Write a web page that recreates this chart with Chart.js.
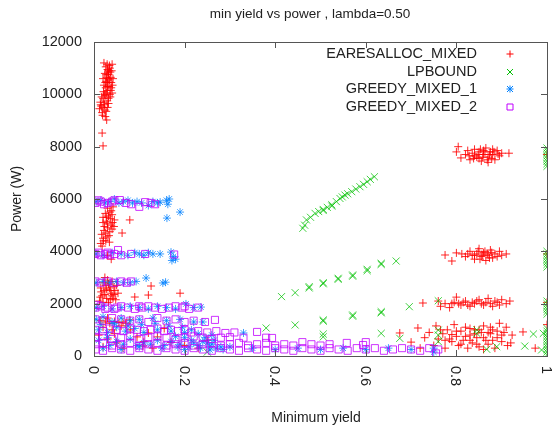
<!DOCTYPE html>
<html>
<head>
<meta charset="utf-8">
<script src="https://cdn.jsdelivr.net/npm/chart.js@4/dist/chart.umd.min.js"></script>
<style>
  html, body { margin: 0; padding: 0; background: #fff; }
  canvas { display: block; }
</style>
</head>
<body>
<canvas id="yieldChart" width="553" height="426"></canvas>
<script>
// points, [min yield, power]
const seriesNames = ["EARESALLOC_MIXED", "LPBOUND", "GREEDY_MIXED_1", "GREEDY_MIXED_2"];
const xTicks = [0, 0.2, 0.4, 0.6, 0.8, 1];
const yTicks = [0, 2000, 4000, 6000, 8000, 10000, 12000];

const earesallocPts = [
    [0.012,9450],[0.015,9600],[0.018,9300],[0.02,9500],[0.022,9700],[0.024,9400],[0.02,9850],[0.025,9950],[0.028,10050],[0.03,10150],
    [0.026,10250],[0.022,10350],[0.03,10450],[0.034,10550],[0.028,10650],[0.032,10750],[0.036,10850],[0.03,10950],[0.026,11050],[0.034,11100],
    [0.04,11150],[0.022,11200],[0.038,10250],[0.04,10050],[0.036,9900],[0.032,9650],[0.025,9150],[0.028,9020],[0.016,9550],[0.02,10600],
    [0.024,10800],[0.038,10450],[0.033,10300],[0.029,9750],[0.035,10000],[0.027,10500],[0.031,10850],[0.019,9200],[0.018,8520],[0.02,8030],
    [0.014,9700],[0.017,9900],[0.021,10100],[0.023,9600],[0.027,9350],[0.029,10300],[0.031,10600],[0.033,10900],[0.037,10650],[0.041,10350],
    [0.039,10900],[0.035,11000],[0.027,10750],[0.025,10450],[0.023,10000],[0.03,9500],[0.032,9850],[0.037,10150],[0.042,10600],[0.029,11150],
    [0.015,4300],[0.02,4500],[0.025,4700],[0.03,4900],[0.02,5100],[0.028,5300],[0.035,5500],[0.03,5650],[0.04,5400],[0.045,5200],
    [0.038,5000],[0.022,4800],[0.033,4600],[0.026,4400],[0.018,4200],[0.04,4850],[0.03,5050],[0.036,5250],[0.025,5450],[0.042,5700],
    [0.079,5200],[0.062,4700],[0.038,3700],[0.03,3850],[0.02,5300],[0.034,4350],
    [0.017,4650],[0.023,4950],[0.027,5150],[0.032,5350],[0.038,5550],[0.044,4950],[0.021,4400],[0.029,4550],[0.035,4750],[0.041,5100],
    [0.012,2100],[0.018,2300],[0.022,2500],[0.026,2700],[0.03,2900],[0.02,2800],[0.034,2600],[0.038,2400],[0.042,2200],[0.046,2500],
    [0.05,2700],[0.015,2600],[0.028,2200],[0.032,2050],[0.04,2850],[0.024,3000],[0.036,2150],[0.044,2350],[0.016,2450],
    [0.014,2250],[0.02,2050],[0.024,2350],[0.028,2550],[0.032,2750],[0.036,2500],[0.04,2300],[0.044,2650],[0.048,2150],[0.053,2400],
    [0.126,2675],[0.09,2254],[0.12,2330],[0.19,2400],
    [0.015,1350],[0.025,1300],[0.035,1250],[0.045,1320],[0.055,1280],[0.064,1300],[0.079,1380],[0.02,1100],[0.04,1000],[0.01,800],
    [0.03,650],[0.05,500],[0.064,300],[0.108,380],[0.095,730],[0.14,730],[0.17,520],[0.2,400],[0.23,300],[0.08,1000],
    [0.12,880],[0.155,1050],[0.02,350],[0.045,850],[0.11,550],[0.03,1450],[0.06,1150],[0.07,1250],[0.25,600],[0.13,300],
    [0.804,8000],[0.80,7800],[0.81,7570],[0.82,7700],[0.825,7850],[0.83,7500],[0.835,7750],[0.84,7900],[0.845,7600],[0.85,7800],
    [0.855,7450],[0.86,7700],[0.865,7950],[0.87,7600],[0.875,7800],[0.88,7700],[0.885,7500],[0.89,7850],[0.895,7650],[0.90,7750],
    [0.916,7750],[0.86,7850],[0.87,7400],[0.84,7650],[0.88,7900],[0.85,7550],[0.892,7720],
    [0.828,7650],[0.838,7550],[0.848,7700],[0.858,7600],[0.863,7800],[0.873,7700],[0.878,7550],[0.883,7800],[0.853,7900],[0.868,7500],
    [0.775,3860],[0.79,3630],[0.80,3940],[0.812,3900],[0.82,3800],[0.83,4000],[0.84,3700],[0.845,3900],[0.85,4100],[0.855,3800],
    [0.86,3950],[0.865,3650],[0.87,3850],[0.875,4050],[0.88,3750],[0.885,3900],[0.89,3800],[0.895,4000],[0.90,3850],[0.91,3900],
    [0.868,3900],[0.84,3850],[0.825,3900],[0.835,3850],[0.858,3850],[0.863,4000],[0.873,3750],[0.878,3950],[0.852,3700],[0.848,4000],
    [0.726,2025],[0.76,2100],[0.765,1900],[0.775,2000],[0.785,1850],[0.795,2050],[0.80,2250],[0.81,1950],[0.82,2100],[0.83,1900],
    [0.84,2000],[0.85,2150],[0.86,1950],[0.865,2050],[0.87,2200],[0.88,1900],[0.89,2050],[0.90,2150],[0.91,2000],[0.918,2100],
    [0.79,2000],[0.835,2050],[0.805,2000],[0.815,2050],[0.825,1950],[0.845,2100],[0.855,2000],[0.875,2000],[0.885,2100],[0.895,1950],
    [0.675,880],[0.70,530],[0.715,1070],[0.72,300],[0.73,700],[0.74,900],[0.75,400],[0.755,1150],[0.76,650],[0.77,850],
    [0.775,300],[0.78,1000],[0.79,550],[0.795,1200],[0.80,750],[0.805,400],[0.81,950],[0.815,600],[0.82,1100],[0.825,300],
    [0.83,800],[0.835,500],[0.84,1000],[0.845,700],[0.85,350],[0.855,900],[0.86,1150],[0.865,600],[0.87,450],[0.875,850],
    [0.88,1000],[0.885,300],[0.89,700],[0.895,1250],[0.90,550],[0.905,900],[0.91,1100],[0.913,400],[0.92,500],[0.923,800],
    [0.947,920],[0.974,300],[0.79,820],[0.83,1050],[0.86,250],
    [0.785,650],[0.8,950],[0.81,450],[0.82,750],[0.83,600],[0.84,850],[0.85,1000],[0.86,700],[0.87,900],[0.88,600],
    [0.89,950],[0.9,800],[0.765,1000],[0.775,600],[0.845,450],[0.875,1100],
    [1,2050],[1,1200],[1,3900],[1,7700]
];

const lpboundPts = [
    [0.461,4880],[0.465,5000],[0.469,5200],[0.478,5300],[0.488,5450],[0.496,5520],[0.506,5600],[0.506,5560],[0.515,5680],[0.525,5730],
    [0.525,5780],[0.535,5900],[0.543,6020],[0.548,6080],[0.554,6150],[0.56,6200],[0.569,6280],[0.578,6380],[0.587,6470],[0.595,6560],
    [0.603,6660],[0.61,6750],[0.619,6850],
    [0.414,2270],[0.444,2420],[0.475,2650],[0.475,2600],[0.506,2800],[0.506,2760],[0.539,2970],[0.539,2930],[0.571,3095],[0.571,3050],
    [0.603,3313],[0.603,3260],[0.634,3540],[0.634,3500],[0.667,3630],
    [0.38,1070],[0.444,1185],[0.506,1376],[0.506,1330],[0.571,1567],[0.571,1520],[0.634,1695],[0.634,1650],[0.696,1885],[0.76,2110],
    [0.25,150],[0.506,840],[0.506,730],[0.634,865],[0.675,675],[0.76,550],[0.76,990],[0.76,800],[0.845,865],[0.845,1000],
    [0.867,255],[0.889,355],[0.951,380],[0.97,840],[0.988,230],[0.992,865],
    [1,7250],[1,7350],[1,7450],[1,7550],[1,7650],[1,7750],[1,7850],[1,7950],
    [1,3400],[1,3500],[1,3600],[1,3700],[1,3800],[1,3900],[1,4000],
    [1,1600],[1,1700],[1,1800],[1,1900],[1,2000],[1,2100],
    [1,50],[1,150],[1,250],[1,350],[1,450],[1,550],[1,650],[1,750],[1,850],[1,950],[1,1050]
];

const greedy1Pts = [
    [0.005,5900],[0.015,5950],[0.025,5850],[0.035,5900],[0.045,6000],[0.055,5850],[0.065,5900],[0.075,5950],[0.085,5850],[0.095,5900],
    [0.105,5850],[0.12,5750],[0.13,5900],[0.14,5850],[0.146,5880],[0.16,5950],[0.163,5800],[0.166,6000],[0.161,5270],[0.19,5500],
    [0.005,3900],[0.02,3850],[0.04,3950],[0.06,3900],[0.075,3850],[0.09,3950],[0.1,3900],[0.11,3850],[0.12,3950],[0.13,3900],
    [0.146,3900],[0.17,3970],[0.175,3800],[0.18,3700],[0.172,3650],
    [0.005,2800],[0.02,2850],[0.035,2800],[0.05,2850],[0.065,2800],[0.08,2800],[0.093,2850],[0.115,2980],[0.152,2790],[0.158,2820],
    [0.005,1850],[0.02,1900],[0.04,1800],[0.06,1850],[0.08,1900],[0.1,1850],[0.12,1800],[0.14,1900],[0.16,1850],[0.18,1800],
    [0.203,1990],[0.22,1850],[0.236,1870],
    [0.005,1400],[0.02,1500],[0.04,1300],[0.06,1450],[0.08,1350],[0.1,1400],[0.13,1450],[0.16,1350],[0.19,1400],[0.22,1300],[0.24,1300],
    [0.01,1000],[0.03,900],[0.05,1100],[0.07,950],[0.09,1050],[0.11,900],[0.14,1000],[0.17,950],[0.2,900],[0.23,850],[0.26,800],
    [0.01,600],[0.03,700],[0.05,550],[0.08,650],[0.11,500],[0.14,600],[0.17,550],[0.19,450],[0.21,350],[0.23,400],[0.25,500],[0.27,300],
    [0.02,300],[0.06,250],[0.1,350],[0.15,300],[0.2,250],[0.256,230],[0.33,880],[0.3,350],[0.35,300],[0.4,250],
    [0.45,300],[0.5,250],[0.55,300],[0.6,250],[0.65,300],[0.7,250],[0.75,150],[0.75,300],
    [0.22,500],[0.24,550],[0.26,450],[0.28,350],[0.2,700],[0.18,750],
    [0.015,1200],[0.045,1250],[0.075,1150],[0.105,1200],[0.135,1250],[0.165,1150],[0.195,1100],[0.215,1000],[0.245,700],[0.265,600],
    [0.035,400],[0.065,450],[0.095,400],[0.125,450],[0.155,400],[0.185,350],[0.215,600],[0.235,300],[0.255,350],[0.285,250]
];

const greedy2Pts = [
    [0.003,5850],[0.015,5900],[0.03,5850],[0.045,5950],[0.057,5960],[0.07,5850],[0.082,5800],[0.1,5700],[0.113,5880],[0.125,5850],[0.135,5800],
    [0.003,3900],[0.015,3850],[0.025,3900],[0.035,3850],[0.045,3900],[0.053,4050],[0.06,3850],[0.082,3900],[0.113,3900],[0.177,3880],
    [0.003,2850],[0.015,2800],[0.03,2850],[0.045,2800],[0.06,2850],[0.072,2800],[0.082,2850],
    [0.003,1850],[0.015,1900],[0.03,1850],[0.045,1800],[0.06,1900],[0.075,1850],[0.09,1800],[0.105,1850],[0.12,1900],[0.135,1850],
    [0.15,1800],[0.165,1850],[0.18,1900],[0.195,1850],[0.21,1800],[0.23,1850],
    [0.003,1400],[0.02,1350],[0.04,1450],[0.06,1400],[0.08,1350],[0.1,1400],[0.12,1300],[0.14,1450],[0.16,1350],[0.18,1400],
    [0.2,1300],[0.22,1350],[0.245,1300],[0.267,1380],
    [0.003,1000],[0.02,950],[0.035,1050],[0.05,1000],[0.065,950],[0.08,1050],[0.095,1000],[0.11,950],[0.125,1000],[0.14,1050],
    [0.155,950],[0.17,1000],[0.185,950],[0.2,1000],[0.215,900],[0.23,950],[0.25,900],[0.27,950],[0.29,880],[0.31,900],[0.36,920],
    [0.003,700],[0.02,750],[0.04,650],[0.06,700],[0.08,750],[0.1,650],[0.12,700],[0.14,750],[0.16,700],[0.18,650],
    [0.2,700],[0.22,750],[0.24,700],[0.26,650],[0.28,700],[0.3,720],[0.33,700],[0.38,700],[0.393,690],
    [0.003,450],[0.02,500],[0.04,400],[0.06,450],[0.08,500],[0.1,400],[0.12,450],[0.14,500],[0.16,400],[0.18,450],
    [0.2,500],[0.22,400],[0.24,450],[0.26,500],[0.28,400],[0.3,450],[0.32,500],[0.34,400],[0.36,450],[0.38,500],
    [0.4,400],[0.42,450],[0.44,400],[0.46,530],[0.48,450],[0.5,400],[0.52,450],[0.558,500],[0.594,420],[0.6,530],
    [0.003,250],[0.02,200],[0.04,300],[0.06,250],[0.08,200],[0.1,300],[0.12,250],[0.14,200],[0.16,300],[0.18,250],
    [0.2,200],[0.22,300],[0.24,250],[0.26,200],[0.28,300],[0.3,250],[0.32,200],[0.34,300],[0.36,250],[0.38,200],
    [0.4,300],[0.42,250],[0.44,200],[0.46,300],[0.48,250],[0.5,200],[0.52,300],[0.54,250],[0.56,200],[0.58,300],
    [0.6,250],[0.62,300],[0.64,200],[0.66,250],[0.68,300],[0.7,250],[0.72,200],[0.74,300],[0.76,250],[0.755,100],
    [0.01,5950],[0.022,5800],[0.04,5900],[0.01,3950],[0.03,3950],[0.008,1950],[0.025,1800],[0.05,1850],[0.1,1900],[0.2,1900]
];

const FONT = '"Liberation Sans", Arial, sans-serif';
const TEXT = '#222';
const colors = ['rgba(255,0,0,0.85)', 'rgba(0,192,0,0.75)', 'rgba(0,128,255,0.75)', 'rgba(192,0,255,0.8)'];
const styles = ['cross', 'crossRot', 'star', 'rect'];
const radii = [4, 5, 4, 5];

const toXY = (pts) => pts.map(p => ({ x: p[0], y: p[1] }));
const allPts = [earesallocPts, lpboundPts, greedy1Pts, greedy2Pts];

// gnuplot style marker for the key
function drawMarker(ctx, kind, x, y, color) {
    ctx.save();
    ctx.strokeStyle = color;
    ctx.lineWidth = 1;
    ctx.beginPath();
    if (kind === 0 || kind === 2) {
        ctx.moveTo(x - 3.5, y); ctx.lineTo(x + 3.5, y);
        ctx.moveTo(x, y - 3.5); ctx.lineTo(x, y + 3.5);
    }
    if (kind === 1 || kind === 2) {
        ctx.moveTo(x - 3, y - 3); ctx.lineTo(x + 3, y + 3);
        ctx.moveTo(x - 3, y + 3); ctx.lineTo(x + 3, y - 3);
    }
    if (kind === 3) {
        ctx.rect(x - 3, y - 3, 6, 6);
    }
    ctx.stroke();
    ctx.restore();
}

const gnuplotFrame = {
    id: 'gnuplotFrame',
    beforeDraw(chart) {
        const ctx = chart.ctx;
        ctx.save();
        ctx.fillStyle = '#fff';
        ctx.fillRect(0, 0, chart.width, chart.height);
        ctx.restore();
    },
    afterDraw(chart) {
        const ctx = chart.ctx;
        const a = chart.chartArea;
        const xs = chart.scales.x, ys = chart.scales.y;
        ctx.save();
        ctx.strokeStyle = '#555';
        ctx.lineWidth = 1;
        ctx.strokeRect(a.left + 0.5, a.top + 0.5, a.right - a.left, a.bottom - a.top);
        ctx.beginPath();
        yTicks.forEach(v => {
            const py = Math.round(ys.getPixelForValue(v)) + 0.5;
            ctx.moveTo(a.left, py); ctx.lineTo(a.left + 6, py);
            ctx.moveTo(a.right, py); ctx.lineTo(a.right - 6, py);
        });
        xTicks.forEach(v => {
            const px = Math.round(xs.getPixelForValue(v)) + 0.5;
            ctx.moveTo(px, a.bottom); ctx.lineTo(px, a.bottom - 6);
            ctx.moveTo(px, a.top); ctx.lineTo(px, a.top + 6);
        });
        ctx.stroke();

        // x tick labels, turned clockwise like gnuplot "rotate by -90"
        ctx.fillStyle = TEXT;
        ctx.font = '14.5px ' + FONT;
        ctx.textAlign = 'left';
        ctx.textBaseline = 'middle';
        xTicks.forEach(v => {
            const px = xs.getPixelForValue(v);
            ctx.save();
            ctx.translate(px - 1, a.bottom + 10);
            ctx.rotate(Math.PI / 2);
            ctx.fillText(String(v), 0, 0);
            ctx.restore();
        });

        // titles
        ctx.textAlign = 'center';
        ctx.font = '13.5px ' + FONT;
        ctx.fillText('min yield vs power , lambda=0.50', 310, 14);
        ctx.font = '14px ' + FONT;
        ctx.fillText('Minimum yield', 316, 418);
        ctx.save();
        ctx.translate(17, 199);
        ctx.rotate(-Math.PI / 2);
        ctx.fillText('Power (W)', 0, 0);
        ctx.restore();

        // key
        ctx.font = '14.5px ' + FONT;
        ctx.textAlign = 'right';
        const rows = [54, 72, 89, 107];
        seriesNames.forEach((name, i) => {
            ctx.fillStyle = TEXT;
            ctx.fillText(name, 477, rows[i]);
            drawMarker(ctx, i, 510, rows[i], colors[i].replace(/[\d.]+\)$/, '1)'));
        });
        ctx.restore();
    }
};

const datasets = seriesNames.map((name, i) => ({
    label: name,
    data: toXY(allPts[i]),
    pointStyle: styles[i],
    pointRadius: radii[i],
    pointHoverRadius: radii[i],
    pointBorderWidth: 1,
    borderColor: colors[i],
    backgroundColor: 'rgba(0,0,0,0)',
    order: 4 - i
}));

new Chart(document.getElementById('yieldChart').getContext('2d'), {
    type: 'scatter',
    data: { datasets: datasets },
    options: {
        responsive: false,
        animation: false,
        layout: { padding: { left: 0, top: 42, right: 6, bottom: 0 } },
        plugins: {
            legend: { display: false },
            title: { display: false },
            tooltip: { enabled: false }
        },
        scales: {
            x: {
                type: 'linear',
                min: 0,
                max: 1,
                ticks: { display: false },
                grid: { display: false, drawTicks: false },
                border: { display: false },
                afterFit: (s) => { s.height = 70; }
            },
            y: {
                type: 'linear',
                min: 0,
                max: 12000,
                ticks: {
                    stepSize: 2000,
                    padding: 12,
                    color: TEXT,
                    font: { family: FONT, size: 14.5 },
                    callback: (v) => String(v)
                },
                grid: { display: false, drawTicks: false },
                border: { display: false },
                afterFit: (s) => { s.width = 94; }
            }
        }
    },
    plugins: [gnuplotFrame]
});
</script>
</body>
</html>
